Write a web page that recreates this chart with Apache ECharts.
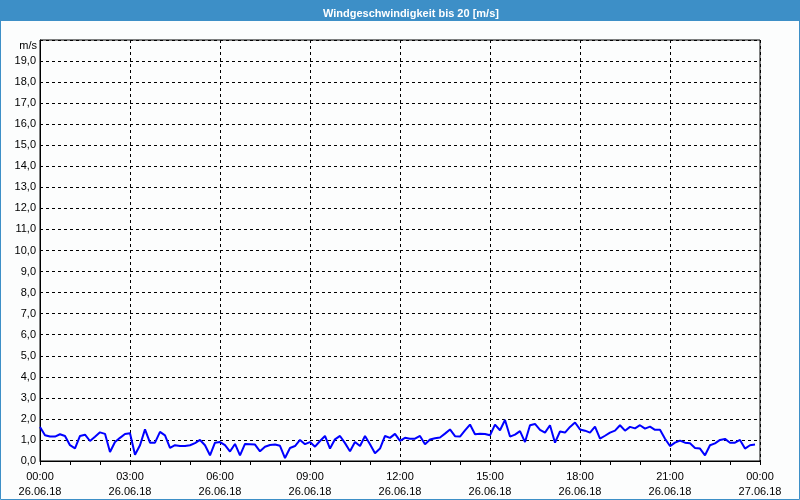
<!DOCTYPE html>
<html>
<head>
<meta charset="utf-8">
<script src="https://cdn.jsdelivr.net/npm/echarts@6/dist/echarts.min.js"></script>
<style>
html,body{margin:0;padding:0;background:#fcfdfd;}
#c{width:800px;height:500px;}
</style>
</head>
<body>
<div id="c"></div>
<script>
// Chart data
const titleText = 'Windgeschwindigkeit bis 20 [m/s]';
const unitLabel = 'm/s';
const stepMinutes = 10; // 10-minute samples starting at 26.06.18 00:00
const windSpeed = [
  1.62,1.22,1.16,1.16,1.27,1.19,0.75,0.60,1.19,1.25,0.95,1.15,1.36,1.29,0.43,0.90,1.10,1.28,1.32,0.30,0.75,1.50,0.87,0.87,1.38,
  1.22,0.62,0.75,0.71,0.71,0.75,0.85,1.00,0.75,0.27,0.87,0.90,0.75,0.45,0.81,0.27,0.81,0.80,0.78,0.46,0.68,0.76,0.78,0.72,
  0.14,0.62,0.71,1.00,0.80,0.90,0.68,0.95,1.19,0.59,1.03,1.19,0.85,0.46,0.90,0.71,1.19,0.80,0.37,0.59,1.19,1.10,1.29,0.96,
  1.10,1.06,1.06,1.19,0.80,1.02,1.08,1.12,1.30,1.50,1.18,1.16,1.45,1.73,1.27,1.30,1.28,1.22,1.73,1.46,1.95,1.16,1.25,1.42,
  0.90,1.70,1.76,1.48,1.35,1.70,0.87,1.40,1.35,1.62,1.83,1.50,1.44,1.35,1.63,1.06,1.20,1.35,1.44,1.70,1.44,1.62,1.55,1.70,
  1.54,1.63,1.48,1.48,1.06,0.71,0.87,0.97,0.87,0.84,0.62,0.59,0.27,0.75,0.84,1.00,1.05,0.87,0.87,1.00,0.59,0.75,0.78
];
const xTickLabels = [
  '00:00\n26.06.18','03:00\n26.06.18','06:00\n26.06.18','09:00\n26.06.18',
  '12:00\n26.06.18','15:00\n26.06.18','18:00\n26.06.18','21:00\n26.06.18','00:00\n27.06.18'
];

const seriesData = windSpeed.map((v, i) => [i * stepMinutes, v]);
const FONT = 'Liberation Sans';

const chart = echarts.init(document.getElementById('c'), null, {renderer: 'canvas'});
chart.setOption({
  backgroundColor: '#fcfdfd',
  animation: false,
  title: {
    text: titleText,
    left: 318,
    top: 3,
    textStyle: {color: '#ffffff', fontFamily: FONT, fontWeight: 'bold', fontSize: 11}
  },
  graphic: [
    {type: 'rect', z: -1, shape: {x: 0, y: 0, width: 800, height: 21}, style: {fill: '#3d8fc7'}, silent: true},
    {type: 'rect', z: 100, shape: {x: 0.5, y: 0.5, width: 799, height: 499}, style: {fill: null, stroke: '#3d8fc7', lineWidth: 1}, silent: true},
    {type: 'text', x: 37, y: 46, style: {text: unitLabel, fill: '#000', font: '11px "Liberation Sans"', align: 'right', verticalAlign: 'middle'}, silent: true}
  ],
  grid: {left: 40, right: 40, top: 40, bottom: 39, show: true, borderColor: '#000', borderWidth: 1, backgroundColor: 'transparent'},
  xAxis: {
    type: 'value',
    min: 0,
    max: 1440,
    interval: 180,
    axisLine: {show: true, lineStyle: {color: '#000', width: 1}},
    axisTick: {show: true, length: 4, lineStyle: {color: '#000'}},
    minorTick: {show: true, splitNumber: 3, length: 4, lineStyle: {color: '#000'}},
    splitLine: {show: true, lineStyle: {color: '#000', type: [3, 3], width: 1}},
    axisLabel: {
      color: '#000', fontFamily: FONT, fontSize: 11, lineHeight: 15, margin: 8,
      showMinLabel: true, showMaxLabel: true,
      formatter: v => xTickLabels[Math.round(v / 180)]
    }
  },
  yAxis: {
    type: 'value',
    min: 0,
    max: 20,
    interval: 1,
    axisLine: {show: true, lineStyle: {color: '#000', width: 1}},
    axisTick: {show: false},
    splitLine: {show: true, lineStyle: {color: '#000', type: [3, 3], width: 1}},
    axisLabel: {
      color: '#000', fontFamily: FONT, fontSize: 11, margin: 4,
      formatter: v => v >= 20 ? '' : v.toFixed(1).replace('.', ',')
    }
  },
  series: [{
    type: 'line',
    data: seriesData,
    showSymbol: false,
    symbol: 'none',
    lineStyle: {color: '#0000ff', width: 2},
    itemStyle: {color: '#0000ff'}
  }]
});
</script>
</body>
</html>
